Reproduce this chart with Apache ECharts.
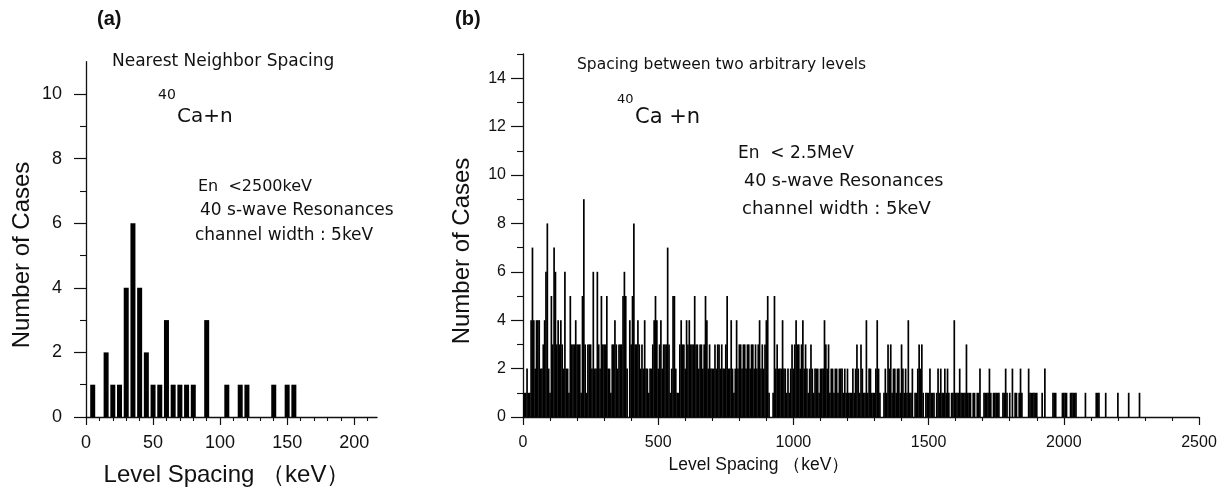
<!DOCTYPE html>
<html>
<head>
<meta charset="utf-8">
<script src="https://cdn.jsdelivr.net/npm/echarts@6.0.0/dist/echarts.min.js"></script>
<style>
html,body{margin:0;padding:0;background:#fff;}
#chart{width:1227px;height:497px;}
</style>
</head>
<body>
<div id="chart"></div>
<script>
// ---------- Panel (a): nearest neighbour spacing ----------
const nnSpacing = [5, 15, 20, 25, 30, 35, 40, 45, 50, 55, 60, 65, 70, 75, 80, 90, 105, 115, 120, 140, 150, 155];
const nnCounts  = [1, 2, 1, 1, 4, 6, 4, 2, 1, 1, 3, 1, 1, 1, 1, 3, 1, 1, 1, 1, 1, 1];
const xTicksA = [0, 50, 100, 150, 200];
const xMinorA = [10, 20, 30, 40, 60, 70, 80, 90, 110, 120, 130, 140, 160, 170, 180, 190, 210];
const yTicksA = [0, 2, 4, 6, 8, 10];
const yMinorA = [1, 3, 5, 7, 9];

// ---------- Panel (b): spacing between two arbitrary levels (5 keV channels) ----------
const channelWidthB = 5;
const countsB = [
  1,1,1,2,1,1,4,7,4,2,4,4,4,2,2,3,4,6,8,2,
  1,5,3,7,6,3,4,3,4,3,2,6,2,2,1,5,3,3,3,4,
  3,3,3,1,5,9,3,1,3,3,3,2,6,2,2,6,3,2,5,3,
  3,3,5,2,2,1,3,3,4,3,2,3,3,3,5,6,5,2,0,4,
  3,5,8,3,3,4,3,2,3,2,4,2,2,1,2,2,3,4,5,4,
  2,3,4,2,3,3,3,7,3,1,2,5,5,2,1,1,3,4,3,3,
  2,4,3,4,3,3,3,5,3,3,2,3,3,2,3,5,4,2,3,2,
  2,2,3,2,3,3,2,3,2,2,3,5,2,2,4,2,1,2,4,2,
  3,3,2,3,3,2,3,3,2,3,3,2,3,2,3,4,2,3,2,3,
  4,5,1,0,0,1,5,2,3,2,2,2,4,2,2,1,2,1,2,3,
  2,3,4,3,3,2,3,4,2,3,2,1,2,3,2,1,2,2,2,1,
  2,2,2,4,3,2,3,1,2,2,1,2,2,1,2,2,2,1,2,1,
  2,1,1,1,2,1,2,3,2,1,3,2,1,1,4,1,2,2,1,1,
  1,2,4,2,1,0,0,1,2,1,3,2,3,1,2,2,1,2,2,1,
  3,2,1,2,1,4,1,1,2,0,1,1,2,3,2,3,1,0,1,1,
  1,2,1,1,1,0,1,2,1,2,1,1,2,1,2,1,0,1,1,4,
  1,1,1,2,1,1,1,1,3,1,1,1,0,1,1,0,1,1,2,0,
  0,1,1,1,1,2,1,0,1,1,1,1,1,0,0,1,1,2,1,0,
  1,0,2,0,1,1,0,1,2,1,0,0,0,0,2,1,1,1,1,1,
  1,0,0,0,1,0,2,0,0,0,0,0,1,1,1,0,0,0,0,1,
  1,1,1,0,0,1,1,1,1,1,0,0,0,0,0,0,1,0,0,0,
  0,0,0,0,1,1,1,0,0,0,0,1,0,0,0,0,0,0,0,0,
  1,0,0,0,0,0,0,0,1,0,0,0,0,0,0,0,1,0,0,0,
  0
];
const xTicksB = [0, 500, 1000, 1500, 2000, 2500];
const xMinorB = [100, 200, 300, 400, 600, 700, 800, 900, 1100, 1200, 1300, 1400, 1600, 1700, 1800, 1900, 2100, 2200, 2300, 2400];
const yTicksB = [0, 2, 4, 6, 8, 10, 12, 14];
const yMinorB = [1, 3, 5, 7, 9, 11, 13, 15];

const ink = '#111';
const axisFont = 'Liberation Sans, Arial, sans-serif';
const noteFont = 'DejaVu Sans, sans-serif';
const plain = v => String(v);

function majorX(grid, max, ticks, fs, margin) {
  return {
    type: 'value', gridIndex: grid, min: 0, max: max,
    axisLine: {show: true, onZero: false, lineStyle: {color: ink, width: 1.3}},
    axisTick: {show: true, customValues: ticks, length: 8, lineStyle: {color: ink, width: 1.2}},
    axisLabel: {show: true, customValues: ticks, formatter: plain, fontSize: fs, fontFamily: axisFont, color: ink, margin: margin},
    splitLine: {show: false}
  };
}
function minorX(grid, max, ticks) {
  return {
    type: 'value', gridIndex: grid, min: 0, max: max, position: 'bottom',
    axisLine: {show: false},
    axisTick: {show: true, customValues: ticks, length: 4, lineStyle: {color: ink, width: 1.1}},
    axisLabel: {show: false},
    splitLine: {show: false}
  };
}
function majorY(grid, max, ticks, fs, margin) {
  return {
    type: 'value', gridIndex: grid, min: 0, max: max,
    axisLine: {show: true, onZero: false, lineStyle: {color: ink, width: 1.3}},
    axisTick: {show: true, customValues: ticks, length: 12, lineStyle: {color: ink, width: 1.2}},
    axisLabel: {show: true, customValues: ticks, formatter: plain, fontSize: fs, fontFamily: axisFont, color: ink, margin: margin},
    splitLine: {show: false}
  };
}
function minorY(grid, max, ticks) {
  return {
    type: 'value', gridIndex: grid, min: 0, max: max, position: 'left',
    axisLine: {show: false},
    axisTick: {show: true, customValues: ticks, length: 6, lineStyle: {color: ink, width: 1.1}},
    axisLabel: {show: false},
    splitLine: {show: false}
  };
}

function txt(t, x, y, size, opts) {
  opts = opts || {};
  return {
    type: 'text', x: x, y: y, rotation: opts.rotation || 0, silent: true,
    style: {
      text: t, fill: ink,
      font: (opts.bold ? 'bold ' : '') + size + 'px ' + (opts.family || noteFont),
      align: opts.align || 'left', verticalAlign: 'middle',
      textAlign: opts.align || 'left', textVerticalAlign: 'middle'
    }
  };
}

const dataA = nnSpacing.map((e, i) => [e, nnCounts[i]]);
const dataB = countsB.map((c, i) => [i * channelWidthB, c]);

function renderChannel(params, api) {
  const e = api.value(0), c = api.value(1);
  if (!c) return null;
  const base = api.coord([e, 0]);
  const top = api.coord([e, c]);
  const w = api.size([channelWidthB, 0])[0] + 0.35;
  return {
    type: 'rect',
    shape: {x: base[0] - w / 2, y: top[1], width: w, height: base[1] - top[1]},
    style: {fill: '#000'}
  };
}

const chart = echarts.init(document.getElementById('chart'), null, {renderer: 'canvas'});
chart.setOption({
  animation: false,
  backgroundColor: '#fff',
  grid: [
    {left: 86, top: 61.7, width: 291, height: 355.3},
    {left: 523, top: 54, width: 676, height: 363}
  ],
  xAxis: [
    majorX(0, 217, xTicksA, 18, 17),
    minorX(0, 217, xMinorA),
    majorX(1, 2500, xTicksB, 16, 18),
    minorX(1, 2500, xMinorB)
  ],
  yAxis: [
    majorY(0, 11, yTicksA, 18, 24),
    minorY(0, 11, yMinorA),
    majorY(1, 15, yTicksB, 16, 17),
    minorY(1, 15, yMinorB)
  ],
  series: [
    {type: 'bar', xAxisIndex: 0, yAxisIndex: 0, data: dataA, barWidth: 5,
     itemStyle: {color: '#000'}, silent: true},
    {type: 'custom', xAxisIndex: 2, yAxisIndex: 2, data: dataB, renderItem: renderChannel,
     silent: true, clip: true}
  ],
  graphic: [
    txt('(a)', 97, 19, 20, {bold: true, family: axisFont}),
    txt('Nearest Neighbor Spacing', 112, 62, 17),
    txt('40', 158, 95, 14),
    txt('Ca+n', 177, 117, 20),
    txt('En  <2500keV', 198, 187, 16),
    txt('40 s-wave Resonances', 200, 211, 17),
    txt('channel width : 5keV', 195, 236, 17),
    txt('Number of Cases', 22, 255, 24, {rotation: Math.PI / 2, align: 'center', family: axisFont}),
    txt('Level Spacing （keV）', 227, 475, 24, {align: 'center', family: axisFont}),

    txt('(b)', 455, 19, 20, {bold: true, family: axisFont}),
    txt('Spacing between two arbitrary levels', 577, 65, 15.5),
    txt('40', 617, 100, 13),
    txt('Ca +n', 635, 118, 21),
    txt('En  < 2.5MeV', 738, 154, 17),
    txt('40 s-wave Resonances', 744, 181, 17.5),
    txt('channel width : 5keV', 742, 209, 18),
    txt('Number of Cases', 462, 251, 24, {rotation: Math.PI / 2, align: 'center', family: axisFont}),
    txt('Level Spacing （keV）', 759, 465, 17.5, {align: 'center', family: axisFont})
  ]
});
</script>
</body>
</html>
